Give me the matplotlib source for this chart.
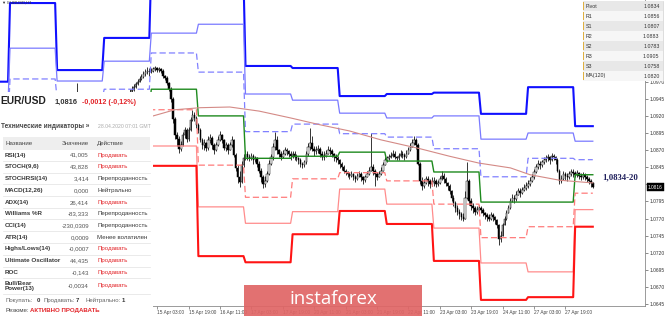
import matplotlib
matplotlib.use("Agg")
import matplotlib.pyplot as plt
from matplotlib.patches import Rectangle
import numpy as np

plt.rcParams['font.family'] = ['Liberation Sans', 'DejaVu Sans']

# ---------------- data ----------------
# daily pivot levels (one value per trading day)
days = ['09 Apr', '10 Apr', '13 Apr', '14 Apr', '15 Apr', '16 Apr', '17 Apr',
        '20 Apr', '21 Apr', '22 Apr', '23 Apr', '24 Apr', '27 Apr', '28 Apr']
R3 = [1.0970, 1.1085, 1.0987, 1.1034, 1.1140, 1.1120, 1.0993, 1.0990, 1.0949, 1.0952, 1.0954, 1.0923, 1.0962, 1.0905]
R2 = [1.0940, 1.1019, 1.0971, 1.1000, 1.1041, 1.1054, 1.0952, 1.0943, 1.0924, 1.0917, 1.0920, 1.0886, 1.0895, 1.0883]
R1 = [1.0910, 1.0974, 1.0945, 1.0959, 1.1012, 1.0984, 1.0897, 1.0908, 1.0894, 1.0889, 1.0872, 1.0831, 1.0858, 1.0856]
PV = [1.0890, 1.0930, 1.0920, 1.0930, 1.0959, 1.0920, 1.0858, 1.0861, 1.0867, 1.0854, 1.0838, 1.0794, 1.0794, 1.0834]
S1 = [1.0870, 1.0890, 1.0880, 1.0900, 1.0929, 1.0848, 1.0801, 1.0828, 1.0837, 1.0825, 1.0791, 1.0742, 1.0758, 1.0807]
S2 = [1.0840, 1.0850, 1.0850, 1.0870, 1.0876, 1.0787, 1.0763, 1.0780, 1.0813, 1.0791, 1.0756, 1.0705, 1.0692, 1.0783]
S3 = [1.0810, 1.0820, 1.0820, 1.0840, 1.0847, 1.0715, 1.0706, 1.0747, 1.0781, 1.0762, 1.0708, 1.0651, 1.0655, 1.0758]

# MA(120) read at sample bars
ma_bars = [73, 84, 97, 112, 127, 143, 158, 173, 189, 209, 224, 239, 255, 265, 280, 297]
ma_vals = [1.0920, 1.0929, 1.0932, 1.0933, 1.0927, 1.0917, 1.0907, 1.0898, 1.0885,
           1.0872, 1.0861, 1.0851, 1.0844, 1.0834, 1.0826, 1.0822]

# hourly candles, pips above 1.0700, first bar = 13 Apr 06:00 (bar 30)
bar_start = 30
close_p = [232,236,240,246,252,248,244,240,238,236,233,230,228,232,235,238,236,234,
    232,230,228,231,234,238,236,234,238,240,244,248,250,254,258,262,266,270,274,277,281,284,286,284,
    286,288,290,287,289,286,278,276,268,260,245,215,192,186,172,178,192,200,186,200,214,222,217,207,
    199,185,177,181,173,185,188,177,170,177,185,192,185,173,177,170,177,185,163,144,130,124,148,158,
    165,160,158,162,155,158,150,140,130,120,125,135,150,160,175,185,170,165,160,165,170,168,165,162,
    165,160,158,155,150,148,152,165,175,180,172,168,170,172,165,160,162,165,170,168,165,160,158,156,
    150,145,140,138,135,132,135,130,128,132,135,130,126,130,135,140,145,140,135,130,135,140,148,155,
    158,160,162,165,160,158,162,165,163,160,165,170,175,180,185,178,150,125,118,122,128,125,120,124,
    125,120,122,128,132,128,122,118,110,100,92,85,80,76,72,70,100,125,95,88,85,80,82,85,
    82,78,75,72,70,75,72,68,60,40,45,60,70,78,85,95,100,98,105,110,108,112,115,118,
    120,125,130,138,145,150,148,152,156,158,160,155,162,160,155,140,125,128,135,132,130,135,138,136,
    134,136,132,130,133,131,128,125,122,116]
high_p = [236,240,244,250,268,252,250,246,242,240,238,236,234,236,240,242,240,238,
    236,234,232,235,238,241,240,238,241,244,248,251,254,260,263,266,270,274,278,281,285,289,291,290,
    290,292,293,292,292,290,288,280,278,270,262,248,218,196,190,184,196,204,202,204,218,228,226,220,
    210,202,188,186,182,190,194,190,180,182,190,198,194,186,182,180,182,190,186,166,148,140,154,164,
    170,168,164,166,164,162,160,154,144,134,132,140,156,165,180,196,190,172,168,170,174,173,170,168,
    168,168,164,160,158,152,156,168,180,202,190,176,176,178,175,168,168,170,176,174,172,166,164,162,
    157,152,148,143,140,138,140,137,134,136,140,138,132,134,140,146,195,150,142,138,140,146,152,160,
    162,164,167,170,168,162,166,170,168,166,170,175,180,186,190,188,180,152,130,128,132,132,128,130,
    130,128,126,132,140,136,130,124,120,112,104,96,90,84,80,78,110,152,128,100,92,88,88,90,
    88,85,80,78,76,80,78,74,70,62,52,64,74,82,90,100,106,104,110,114,114,116,120,124,
    126,130,135,142,150,155,154,156,160,163,164,162,166,165,162,158,142,134,140,138,136,140,142,142,
    140,141,138,136,138,136,134,131,128,124]
low_p = [228,230,234,238,244,242,238,236,232,230,228,225,222,226,230,233,230,228,
    228,226,224,227,230,233,232,230,233,236,240,244,246,250,253,257,261,265,269,272,276,279,281,279,
    282,284,285,284,284,282,276,272,265,256,240,210,186,176,166,168,176,188,182,184,198,212,212,202,
    195,182,172,170,168,170,180,172,165,168,176,184,180,170,168,165,170,174,160,140,122,116,122,146,
    155,156,154,155,150,152,146,136,124,114,116,124,134,148,156,170,165,160,155,158,163,163,160,156,
    158,156,154,150,146,144,145,150,162,170,168,162,164,166,160,156,156,160,164,163,160,154,152,150,
    144,141,136,134,131,128,130,126,124,126,130,125,120,124,130,134,140,134,118,126,130,134,140,148,
    152,155,158,160,157,155,156,160,158,156,158,164,168,174,178,172,148,120,112,115,120,118,114,118,
    118,116,117,120,126,122,118,112,106,96,88,80,75,70,68,66,70,98,90,82,78,75,76,78,
    78,74,70,66,66,68,66,62,56,31,36,44,60,68,78,84,94,92,96,104,102,106,110,112,
    114,118,124,128,136,143,142,146,150,152,154,150,154,155,150,138,120,122,126,127,125,128,132,130,
    130,131,128,126,128,126,124,120,116,114]

time_labels = ['15 Apr 03:00', '15 Apr 19:00', '16 Apr 11:00', '17 Apr 03:00', '17 Apr 19:00',
               '20 Apr 11:00', '21 Apr 03:00', '21 Apr 19:00', '22 Apr 11:00', '23 Apr 03:00',
               '23 Apr 19:00', '24 Apr 11:00', '27 Apr 03:00', '27 Apr 19:00']
first_label_bar = 75
price_ticks = [1.0645, 1.0670, 1.0695, 1.0720, 1.0745, 1.0770, 1.0795, 1.0820, 1.0845,
               1.0870, 1.0895, 1.0920, 1.0945, 1.0970]

tbl_names = ['Pivot', 'R1', 'S1', 'R2', 'S2', 'R3', 'S3', 'MA(120)']
tbl_values = ['1.0834', '1.0856', '1.0807', '1.0883', '1.0783', '1.0905', '1.0758', '1.0820']

ind_names = ['RSI(14)', 'STOCH(9,6)', 'STOCHRSI(14)', 'MACD(12,26)', 'ADX(14)', 'Williams %R',
             'CCI(14)', 'ATR(14)', 'Highs/Lows(14)', 'Ultimate Oscillator', 'ROC', 'Bull/Bear\nPower(13)']
ind_values = ['41,005', '43,828', '3,414', '0,000', '26,414', '-83,333', '-230,0309', '0,0009',
              '-0,0007', '44,435', '-0,143', '-0,0034']
ind_actions = ['Продавать', 'Продавать', 'Перепроданность', 'Нейтрально', 'Продавать',
               'Перепроданность', 'Перепроданность', 'Менее волатилен', 'Продавать',
               'Продавать', 'Продавать', 'Продавать']
last_price = '1,0816'
change_txt = '-0,0012 (-0,12%)'
zone_label = '1,0834-20'
cur_price = 1.0816

# ---------------- figure ----------------
W, H = 665, 316
fig = plt.figure(figsize=(W / 100, H / 100), dpi=100)
fig.patch.set_facecolor('white')


def fax(x0, y0, x1, y1, **kw):
    return fig.add_axes([x0 / W, 1 - y1 / H, (x1 - x0) / W, (y1 - y0) / H], **kw)


ax = fax(0, 0, 645, 306)
ax.set_facecolor('white')
ax.set_xlim(-5.1, 323.6)
ax.set_ylim(1.064208, 1.108944)

close = 1.07 + np.array(close_p) / 10000.0
high = 1.07 + np.array(high_p) / 10000.0
low = 1.07 + np.array(low_p) / 10000.0
bars = np.arange(bar_start, bar_start + len(close))
opn = np.r_[close[0], close[:-1]]
last_bar = bars[-1]


def level_series(vals):
    xs, ys = [], []
    for k, v in enumerate(vals):
        s = 24 * (k - 1)
        e = min(s + 24, last_bar + 1)
        xs.extend(range(s, e))
        ys.extend([v] * (e - s))
    return xs, ys


# candles
ax.vlines(bars, low, high, color='black', lw=0.55, zorder=3)
up = close >= opn
bh = np.maximum(np.abs(close - opn), 0.00003)
ax.bar(bars[up], bh[up], bottom=np.minimum(opn, close)[up], width=0.8,
       facecolor='white', edgecolor='black', linewidth=0.35, zorder=4)
ax.bar(bars[~up], bh[~up], bottom=np.minimum(opn, close)[~up], width=0.8,
       facecolor='black', edgecolor='black', linewidth=0.35, zorder=4)

# levels
styles = [
    (R3, '#1010ff', 1.5, '-'), (R2, '#7a7aff', 0.9, '-'), (R1, '#8080ff', 0.9, (0, (5, 2.5))),
    (PV, '#1e8a1e', 1.0, '-'),
    (S1, '#ff7b7b', 0.9, (0, (5, 2.5))), (S2, '#ff8c8c', 0.9, '-'), (S3, '#ff1414', 1.5, '-'),
]
for vals, col, lw, ls in styles:
    xs, ys = level_series(vals)
    ax.plot(xs, ys, color=col, lw=lw, ls=ls, zorder=5)
ax.plot(ma_bars, ma_vals, color='#d48a86', lw=0.8, zorder=5)

# axes styling
for s in ['top', 'left']:
    ax.spines[s].set_visible(False)
for s in ['right', 'bottom']:
    ax.spines[s].set_color('#8a8a8a')
    ax.spines[s].set_linewidth(0.6)
ax.yaxis.tick_right()
ax.set_yticks(price_ticks)
ax.set_yticklabels(['' if abs(v - 1.0820) < 1e-6 else f'{v:.4f}' for v in price_ticks])
ax.tick_params(axis='y', labelsize=3.5, length=2, width=0.4, colors='#333333', pad=1)
xt = [first_label_bar + 16 * j for j in range(len(time_labels))]
ax.set_xticks(xt)
ax.set_xticklabels(time_labels, ha='left')
ax.tick_params(axis='x', labelsize=3.4, length=2, width=0.4, colors='#444444', pad=1)

# current price marker on the price scale
ax.annotate(f'{cur_price:.4f}', xy=(1.0, cur_price), xycoords=('axes fraction', 'data'),
            xytext=(2.2, 0), textcoords='offset points', fontsize=3.4, color='white',
            va='center', ha='left',
            bbox=dict(boxstyle='square,pad=0.25', fc='black', ec='black', lw=0.3),
            annotation_clip=False, zorder=10)

# ---------------- overlay ----------------
ov = fax(0, 0, 665, 316)
ov.set_xlim(0, 665)
ov.set_ylim(316, 0)
ov.patch.set_alpha(0)
ov.set_xticks([])
ov.set_yticks([])
for s in ov.spines.values():
    s.set_visible(False)

ov.text(2, 2.5, '\u25BC EURUSD,H1', fontsize=3.0, color='#333333', va='center', ha='left')

# left technical indicators panel
ov.add_patch(Rectangle((0, 92), 153, 224, fc='white', ec='none', zorder=1))
ov.text(0.5, 101.5, 'EUR/USD', fontsize=7.4, fontweight='bold', color='#222222', va='center', zorder=2)
ov.text(55, 102, last_price, fontsize=5.4, fontweight='bold', color='#333333', va='center', zorder=2)
ov.text(82, 102, change_txt, fontsize=5.1, fontweight='bold', color='#e3262b', va='center', zorder=2)
ov.text(1, 127, 'Технические индикаторы »', fontsize=4.7, fontweight='bold', color='#444444',
        va='center', zorder=2)
ov.text(98, 127, '28.04.2020 07:01 GMT', fontsize=3.7, color='#aaaaaa', va='center', zorder=2)
ov.add_patch(Rectangle((3, 137), 147, 13, fc='#eeeeee', ec='none', zorder=1.5))
ov.text(5, 143.5, 'Название', fontsize=4.4, color='#444444', va='center', zorder=2)
ov.text(89, 143.5, 'Значение', fontsize=4.4, color='#444444', va='center', ha='right', zorder=2)
ov.text(97, 143.5, 'Действие', fontsize=4.4, color='#444444', va='center', zorder=2)

row_y = [155, 166.7, 178.3, 190.5, 202.3, 213.5, 225.5, 237.3, 248.7, 260.5, 272.3, 286]
sep_y = [161, 172.5, 184, 196, 207.7, 219.3, 231, 242.7, 254.7, 266.5, 278, 293.5]
for nm, vl, ac, yy in zip(ind_names, ind_values, ind_actions, row_y):
    ov.text(5, yy, nm, fontsize=4.5, fontweight='bold', color='#3a3a3a', va='center',
            linespacing=0.95, zorder=2)
    ov.text(89, yy, vl, fontsize=4.4, color='#555555', va='center', ha='right', zorder=2)
    col = '#e3262b' if ac == 'Продавать' else '#3a3a3a'
    ov.text(97, yy, ac, fontsize=4.4, color=col, va='center', zorder=2)
for yy in sep_y:
    ov.plot([3, 150], [yy, yy], color='#e2e2e2', lw=0.5, zorder=1.6)

ov.text(5, 300.7, 'Покупать:', fontsize=4.3, color='#666666', va='center', zorder=2)
ov.text(37, 300.7, '0', fontsize=4.3, fontweight='bold', color='#333333', va='center', zorder=2)
ov.text(43.5, 300.7, 'Продавать:', fontsize=4.3, color='#666666', va='center', zorder=2)
ov.text(75.5, 300.7, '7', fontsize=4.3, fontweight='bold', color='#333333', va='center', zorder=2)
ov.text(85, 300.7, 'Нейтрально:', fontsize=4.3, color='#666666', va='center', zorder=2)
ov.text(122, 300.7, '1', fontsize=4.3, fontweight='bold', color='#333333', va='center', zorder=2)
ov.text(5, 310.5, 'Резюме:', fontsize=4.4, color='#444444', va='center', zorder=2)
ov.text(29.5, 310.5, 'АКТИВНО ПРОДАВАТЬ', fontsize=4.4, fontweight='bold', color='#e3262b',
        va='center', zorder=2)

# top-right pivot table
ov.add_patch(Rectangle((583, 1), 81, 80, fc='white', ec='none', zorder=1))
rh = 80 / len(tbl_names)
for r, (nm, vl) in enumerate(zip(tbl_names, tbl_values)):
    y0 = 1 + r * rh
    ov.add_patch(Rectangle((583, y0), 80, rh, fc='#e8e8e8' if r % 2 == 0 else '#f6f6f6',
                           ec='none', zorder=1.2))
    ov.add_patch(Rectangle((583.3, y0 + 1.2), 1.0, rh - 2.4, fc='#e0b040', ec='none', zorder=1.3))
    ov.text(586, y0 + rh / 2, nm, fontsize=3.8, color='#333333', va='center', zorder=2)
    ov.text(659.5, y0 + rh / 2, vl, fontsize=3.8, color='#333333', va='center', ha='right', zorder=2)
ov.plot([663, 663], [1, 81], color='#cfcfcf', lw=0.5, zorder=1.4)

# zone label
ov.text(602, 177.5, zone_label, fontsize=6.3, fontweight='bold', color='#1f1f5c',
        family='Liberation Serif', va='center', ha='left', zorder=2)

# logo
ov.add_patch(Rectangle((244, 285), 178, 31, fc='#e06565', ec='none', alpha=0.92, zorder=2))
ov.text(333, 299.5, 'instaforex', fontsize=13.5, color='white', family='Open Sans',
        va='center', ha='center', zorder=3)

fig.savefig('out.png', dpi=100, facecolor='white')
